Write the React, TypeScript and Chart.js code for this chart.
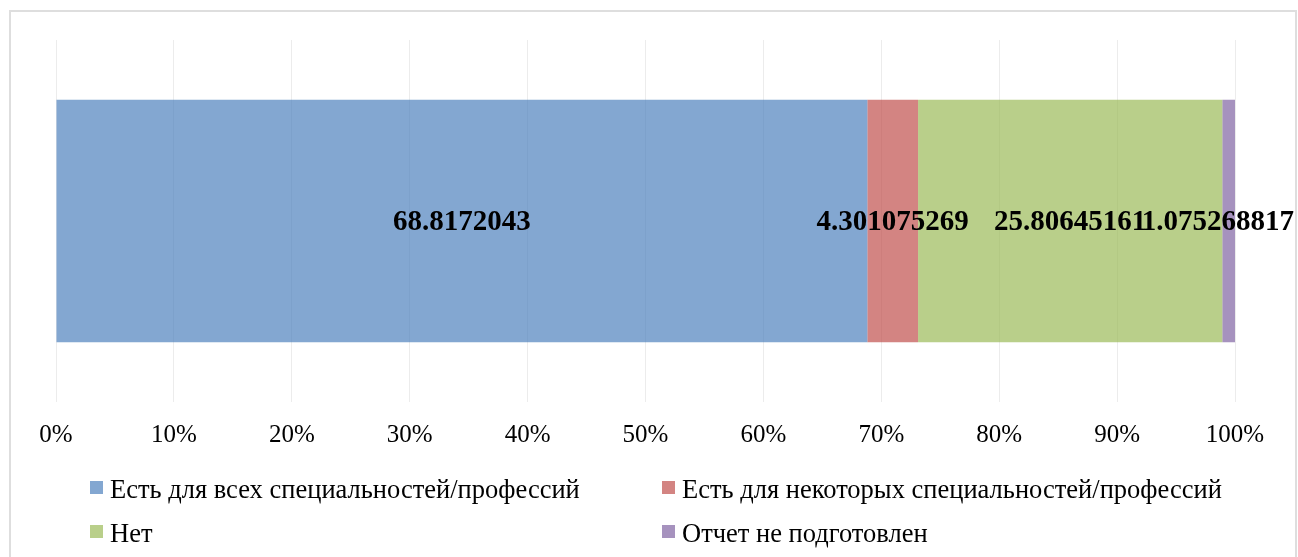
import React, { useEffect, useRef } from "react";
import { Chart, registerables } from "chart.js";

Chart.register(...registerables);

const categories = [""];
const seriesNames = [
  "Есть для всех специальностей/профессий",
  "Есть для некоторых специальностей/профессий",
  "Нет",
  "Отчет не подготовлен",
];
const seriesAll = [68.8172043];
const seriesSome = [4.301075269];
const seriesNo = [25.80645161];
const seriesNotReady = [1.075268817];
const tickValues = [0, 10, 20, 30, 40, 50, 60, 70, 80, 90, 100];

const colors = [
  "rgba(79,129,189,0.7)",
  "rgba(192,80,77,0.7)",
  "rgba(155,187,89,0.7)",
  "rgba(128,100,162,0.7)",
];

const FONT = '"Liberation Serif", "Times New Roman", serif';

const valueLabels = {
  id: "valueLabels",
  afterDraw(chart: any) {
    const ctx = chart.ctx;
    ctx.save();
    ctx.font = `bold 29px ${FONT}`;
    ctx.fillStyle = "#000";
    ctx.textAlign = "center";
    ctx.textBaseline = "middle";
    const rightLimit = chart.width - 4;
    chart.data.datasets.forEach((ds: any, i: number) => {
      const meta = chart.getDatasetMeta(i);
      meta.data.forEach((el: any, j: number) => {
        const p = el.getProps(["x", "y", "base"], true);
        const txt = String(ds.data[j]);
        const w = ctx.measureText(txt).width;
        let cx = (p.x + p.base) / 2;
        if (cx + w / 2 > rightLimit) cx = rightLimit - w / 2;
        ctx.fillText(txt, cx, p.y + 2);
      });
    });
    ctx.restore();
  },
};

export default function App() {
  const ref = useRef<HTMLCanvasElement>(null);
  useEffect(() => {
    if (!ref.current) return;
    const seriesData = [seriesAll, seriesSome, seriesNo, seriesNotReady];
    const chart = new Chart(ref.current, {
      type: "bar",
      data: {
        labels: categories,
        datasets: seriesNames.map((n, i) => ({
          label: n,
          data: seriesData[i],
          backgroundColor: colors[i],
          borderWidth: 0,
          categoryPercentage: 1,
          barPercentage: 0.67,
        })),
      },
      options: {
        indexAxis: "y",
        responsive: false,
        animation: false,
        maintainAspectRatio: false,
        layout: { padding: { left: 56, right: 63, top: 40, bottom: 89 } },
        plugins: { legend: { display: false }, tooltip: { enabled: false } },
        scales: {
          x: {
            stacked: true,
            min: 0,
            max: 100,
            afterBuildTicks(axis: any) {
              axis.ticks = tickValues.map((v) => ({ value: v }));
            },
            grid: { color: "#ececec", lineWidth: 1, drawTicks: false },
            border: { display: false },
            ticks: {
              padding: 18,
              color: "#000",
              font: { family: FONT, size: 25 },
              callback: (v: any) => v + "%",
              maxRotation: 0,
            },
          },
          y: { stacked: true, display: false },
        },
      },
      plugins: [valueLabels],
    });
    return () => chart.destroy();
  }, []);

  const legendPos = [
    { left: 90, base: 498 },
    { left: 662, base: 498 },
    { left: 90, base: 542 },
    { left: 662, base: 542 },
  ];

  return (
    <div style={{ position: "fixed", left: 0, top: 0, width: 1298, height: 557, background: "#fff", overflow: "hidden" }}>
      <canvas ref={ref} width={1298} height={557} style={{ position: "absolute", left: 0, top: 0 }} />
      <div style={{ position: "absolute", left: 9, top: 10, width: 1288, height: 600, border: "2px solid #dedede", boxSizing: "border-box" }} />
      {seriesNames.map((n, i) => (
        <React.Fragment key={n}>
          <div style={{ position: "absolute", left: legendPos[i].left, top: legendPos[i].base - 17, width: 13, height: 13, background: colors[i] }} />
          <div style={{ position: "absolute", left: legendPos[i].left + 20, top: legendPos[i].base - 22, font: `26.5px ${FONT}`, lineHeight: "26.5px", color: "#000", whiteSpace: "nowrap" }}>{n}</div>
        </React.Fragment>
      ))}
    </div>
  );
}
